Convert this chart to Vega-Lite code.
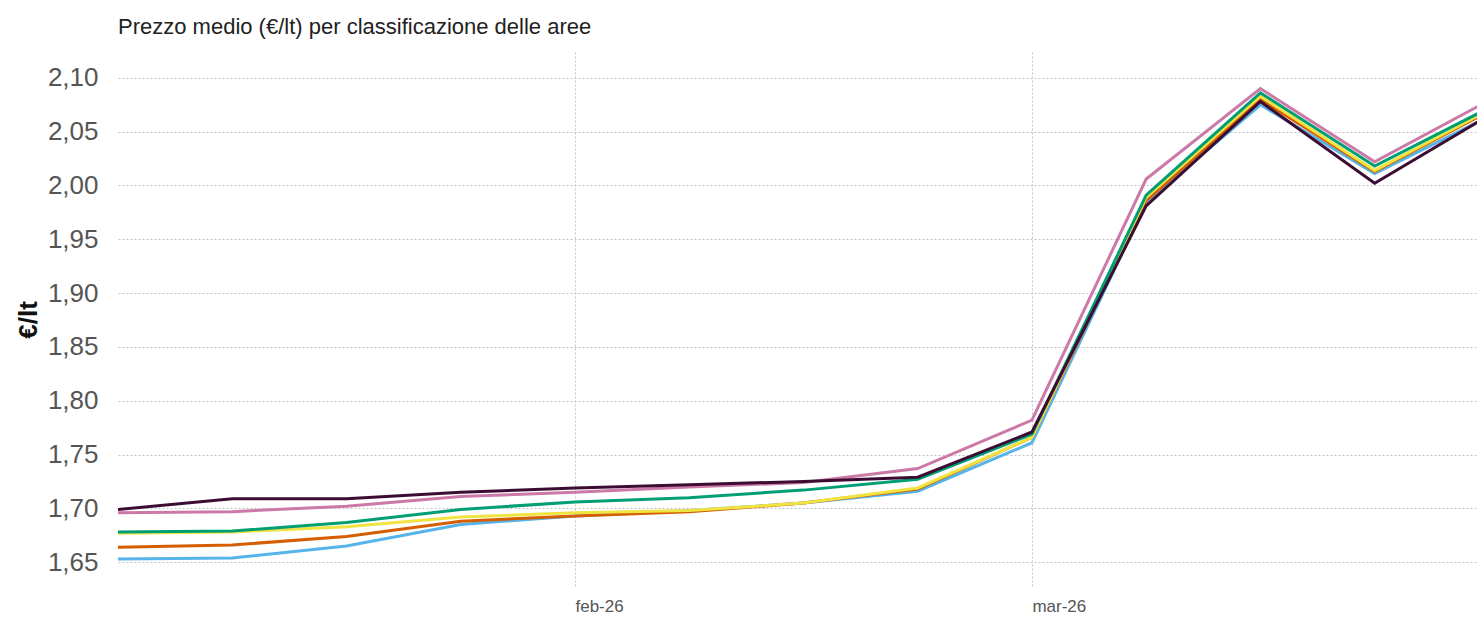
{
  "$schema": "https://vega.github.io/schema/vega-lite/v6.json",
  "autosize": "none",
  "width": 1359,
  "height": 535,
  "padding": {"left": 118, "top": 52, "right": 0, "bottom": 30},
  "background": "white",
  "config": {
    "view": {"stroke": null},
    "font": "Liberation Sans"
  },
  "title": {
    "text": "Prezzo medio (€/lt) per classificazione delle aree",
    "anchor": "start",
    "frame": "group",
    "fontSize": 22,
    "fontWeight": "normal",
    "color": "#222222",
    "font": "Liberation Sans",
    "offset": 13
  },
  "data": {
    "values": [
      {"data": "2026-01-04", "serie": "Classe 1", "prezzo": 1.653},
      {"data": "2026-01-11", "serie": "Classe 1", "prezzo": 1.654},
      {"data": "2026-01-18", "serie": "Classe 1", "prezzo": 1.665},
      {"data": "2026-01-25", "serie": "Classe 1", "prezzo": 1.685},
      {"data": "2026-02-01", "serie": "Classe 1", "prezzo": 1.693},
      {"data": "2026-02-08", "serie": "Classe 1", "prezzo": 1.698},
      {"data": "2026-02-15", "serie": "Classe 1", "prezzo": 1.705},
      {"data": "2026-02-22", "serie": "Classe 1", "prezzo": 1.716},
      {"data": "2026-03-01", "serie": "Classe 1", "prezzo": 1.761},
      {"data": "2026-03-08", "serie": "Classe 1", "prezzo": 1.984},
      {"data": "2026-03-15", "serie": "Classe 1", "prezzo": 2.075},
      {"data": "2026-03-22", "serie": "Classe 1", "prezzo": 2.011},
      {"data": "2026-03-29", "serie": "Classe 1", "prezzo": 2.064},

      {"data": "2026-01-04", "serie": "Classe 2", "prezzo": 1.664},
      {"data": "2026-01-11", "serie": "Classe 2", "prezzo": 1.666},
      {"data": "2026-01-18", "serie": "Classe 2", "prezzo": 1.674},
      {"data": "2026-01-25", "serie": "Classe 2", "prezzo": 1.688},
      {"data": "2026-02-01", "serie": "Classe 2", "prezzo": 1.693},
      {"data": "2026-02-08", "serie": "Classe 2", "prezzo": 1.697},
      {"data": "2026-02-15", "serie": "Classe 2", "prezzo": 1.705},
      {"data": "2026-02-22", "serie": "Classe 2", "prezzo": 1.718},
      {"data": "2026-03-01", "serie": "Classe 2", "prezzo": 1.766},
      {"data": "2026-03-08", "serie": "Classe 2", "prezzo": 1.986},
      {"data": "2026-03-15", "serie": "Classe 2", "prezzo": 2.080},
      {"data": "2026-03-22", "serie": "Classe 2", "prezzo": 2.013},
      {"data": "2026-03-29", "serie": "Classe 2", "prezzo": 2.069},

      {"data": "2026-01-04", "serie": "Classe 3", "prezzo": 1.677},
      {"data": "2026-01-11", "serie": "Classe 3", "prezzo": 1.678},
      {"data": "2026-01-18", "serie": "Classe 3", "prezzo": 1.683},
      {"data": "2026-01-25", "serie": "Classe 3", "prezzo": 1.692},
      {"data": "2026-02-01", "serie": "Classe 3", "prezzo": 1.696},
      {"data": "2026-02-08", "serie": "Classe 3", "prezzo": 1.698},
      {"data": "2026-02-15", "serie": "Classe 3", "prezzo": 1.705},
      {"data": "2026-02-22", "serie": "Classe 3", "prezzo": 1.719},
      {"data": "2026-03-01", "serie": "Classe 3", "prezzo": 1.766},
      {"data": "2026-03-08", "serie": "Classe 3", "prezzo": 1.989},
      {"data": "2026-03-15", "serie": "Classe 3", "prezzo": 2.083},
      {"data": "2026-03-22", "serie": "Classe 3", "prezzo": 2.014},
      {"data": "2026-03-29", "serie": "Classe 3", "prezzo": 2.070},

      {"data": "2026-01-04", "serie": "Classe 4", "prezzo": 1.678},
      {"data": "2026-01-11", "serie": "Classe 4", "prezzo": 1.679},
      {"data": "2026-01-18", "serie": "Classe 4", "prezzo": 1.687},
      {"data": "2026-01-25", "serie": "Classe 4", "prezzo": 1.699},
      {"data": "2026-02-01", "serie": "Classe 4", "prezzo": 1.706},
      {"data": "2026-02-08", "serie": "Classe 4", "prezzo": 1.710},
      {"data": "2026-02-15", "serie": "Classe 4", "prezzo": 1.717},
      {"data": "2026-02-22", "serie": "Classe 4", "prezzo": 1.727},
      {"data": "2026-03-01", "serie": "Classe 4", "prezzo": 1.769},
      {"data": "2026-03-08", "serie": "Classe 4", "prezzo": 1.991},
      {"data": "2026-03-15", "serie": "Classe 4", "prezzo": 2.086},
      {"data": "2026-03-22", "serie": "Classe 4", "prezzo": 2.018},
      {"data": "2026-03-29", "serie": "Classe 4", "prezzo": 2.072},

      {"data": "2026-01-04", "serie": "Classe 5", "prezzo": 1.696},
      {"data": "2026-01-11", "serie": "Classe 5", "prezzo": 1.697},
      {"data": "2026-01-18", "serie": "Classe 5", "prezzo": 1.702},
      {"data": "2026-01-25", "serie": "Classe 5", "prezzo": 1.711},
      {"data": "2026-02-01", "serie": "Classe 5", "prezzo": 1.715},
      {"data": "2026-02-08", "serie": "Classe 5", "prezzo": 1.720},
      {"data": "2026-02-15", "serie": "Classe 5", "prezzo": 1.724},
      {"data": "2026-02-22", "serie": "Classe 5", "prezzo": 1.737},
      {"data": "2026-03-01", "serie": "Classe 5", "prezzo": 1.782},
      {"data": "2026-03-08", "serie": "Classe 5", "prezzo": 2.006},
      {"data": "2026-03-15", "serie": "Classe 5", "prezzo": 2.090},
      {"data": "2026-03-22", "serie": "Classe 5", "prezzo": 2.022},
      {"data": "2026-03-29", "serie": "Classe 5", "prezzo": 2.079},

      {"data": "2026-01-04", "serie": "Classe 6", "prezzo": 1.699},
      {"data": "2026-01-11", "serie": "Classe 6", "prezzo": 1.709},
      {"data": "2026-01-18", "serie": "Classe 6", "prezzo": 1.709},
      {"data": "2026-01-25", "serie": "Classe 6", "prezzo": 1.715},
      {"data": "2026-02-01", "serie": "Classe 6", "prezzo": 1.719},
      {"data": "2026-02-08", "serie": "Classe 6", "prezzo": 1.722},
      {"data": "2026-02-15", "serie": "Classe 6", "prezzo": 1.725},
      {"data": "2026-02-22", "serie": "Classe 6", "prezzo": 1.729},
      {"data": "2026-03-01", "serie": "Classe 6", "prezzo": 1.771},
      {"data": "2026-03-08", "serie": "Classe 6", "prezzo": 1.981},
      {"data": "2026-03-15", "serie": "Classe 6", "prezzo": 2.078},
      {"data": "2026-03-22", "serie": "Classe 6", "prezzo": 2.002},
      {"data": "2026-03-29", "serie": "Classe 6", "prezzo": 2.065}
    ]
  },
  "mark": {"type": "line", "strokeWidth": 3, "clip": true},
  "encoding": {
    "x": {
      "field": "data",
      "type": "temporal",
      "scale": {
        "type": "utc",
        "domain": [
          {"year": 2026, "month": 1, "date": 4, "utc": true},
          {"year": 2026, "month": 3, "date": 28, "hours": 6, "minutes": 30, "utc": true}
        ]
      },
      "axis": {
        "title": null,
        "values": [
          {"year": 2026, "month": 2, "date": 1, "utc": true},
          {"year": 2026, "month": 3, "date": 1, "utc": true}
        ],
        "labelExpr": "lower(utcFormat(datum.value, '%b-%y'))",
        "labelAlign": "left",
        "labelFontSize": 17,
        "labelColor": "#555555",
        "labelPadding": 11,
        "domain": false,
        "ticks": false,
        "grid": true,
        "gridDash": [2, 2],
        "gridColor": "#c4c4c4",
        "gridWidth": 1
      }
    },
    "y": {
      "field": "prezzo",
      "type": "quantitative",
      "scale": {"domain": [1.627, 2.124], "zero": false, "nice": false},
      "axis": {
        "title": "€/lt",
        "titleFontSize": 26,
        "titleFontWeight": "bold",
        "titleColor": "#111111",
        "titlePadding": 6,
        "values": [1.65, 1.7, 1.75, 1.8, 1.85, 1.9, 1.95, 2.0, 2.05, 2.1],
        "labelExpr": "replace(format(datum.value, '.2f'), '.', ',')",
        "labelFontSize": 26,
        "labelColor": "#555555",
        "labelPadding": 20,
        "domain": false,
        "ticks": false,
        "grid": true,
        "gridDash": [2, 2],
        "gridColor": "#c4c4c4",
        "gridWidth": 1
      }
    },
    "color": {
      "field": "serie",
      "type": "nominal",
      "scale": {
        "domain": ["Classe 1", "Classe 2", "Classe 3", "Classe 4", "Classe 5", "Classe 6"],
        "range": ["#56b4e9", "#d55e00", "#f0e442", "#009e73", "#cc79a7", "#3d0c33"]
      },
      "legend": null
    }
  }
}
